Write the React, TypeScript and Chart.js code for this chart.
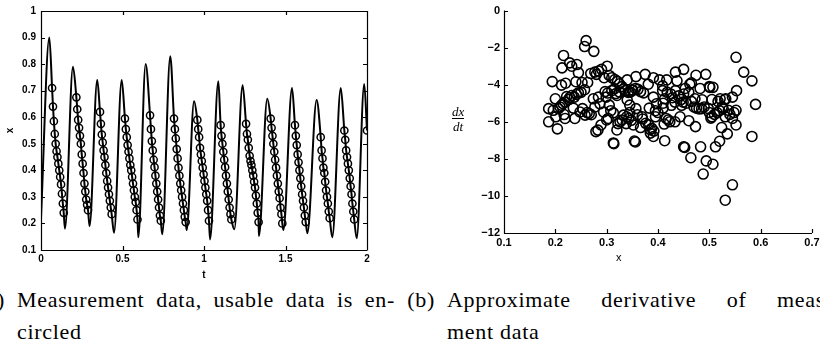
import React, { useEffect, useRef } from 'react';
import { Chart, registerables } from 'chart.js';

Chart.register(...registerables);

// ---------- Panel (a): measurement data ----------
const X1_TICKS = [0, 0.5, 1, 1.5, 2];
const X1_TICK_LABELS = ['0', '0.5', '1', '1.5', '2'];
const Y1_TICKS = [0.1, 0.2, 0.3, 0.4, 0.5, 0.6, 0.7, 0.8, 0.9, 1];
const Y1_TICK_LABELS = ['0.1', '0.2', '0.3', '0.4', '0.5', '0.6', '0.7', '0.8', '0.9', '1'];

const LINE_START_T = [0];
const LINE_START_X = [0.22];
const PEAK_T = [0.051, 0.196, 0.345, 0.495, 0.642, 0.793, 0.939, 1.088, 1.237, 1.388, 1.54, 1.691, 1.839, 1.983];
const PEAK_X = [0.9, 0.79, 0.74, 0.74, 0.8, 0.83, 0.66, 0.735, 0.72, 0.67, 0.71, 0.665, 0.71, 0.725];
const MIN_T = [0.147, 0.298, 0.448, 0.597, 0.744, 0.894, 1.037, 1.186, 1.337, 1.487, 1.634, 1.787, 1.937];
const MIN_X = [0.18, 0.19, 0.165, 0.148, 0.159, 0.175, 0.14, 0.178, 0.153, 0.175, 0.163, 0.148, 0.144];

// sampling step of the encircled (usable) measurements
const DT = 0.0055;
const CIRCLE_T0 = [0.068, 0.217, 0.362, 0.515, 0.669, 0.816, 0.959, 1.102, 1.258, 1.409, 1.558, 1.716, 1.861, 2.0];
const CIRCLE_X = [
  [0.71, 0.64, 0.585, 0.537, 0.5, 0.472, 0.45, 0.425, 0.4, 0.375, 0.347, 0.312, 0.275, 0.24],
  [0.675, 0.63, 0.59, 0.56, 0.53, 0.5, 0.46, 0.425, 0.39, 0.35, 0.32, 0.29, 0.27, 0.25],
  [0.62, 0.575, 0.535, 0.505, 0.475, 0.45, 0.42, 0.39, 0.36, 0.335, 0.31, 0.285, 0.26, 0.235],
  [0.595, 0.555, 0.525, 0.495, 0.47, 0.445, 0.42, 0.4, 0.375, 0.35, 0.325, 0.3, 0.28, 0.25, 0.215],
  [0.607, 0.555, 0.51, 0.475, 0.44, 0.412, 0.38, 0.35, 0.32, 0.29, 0.26, 0.23, 0.21],
  [0.595, 0.555, 0.52, 0.48, 0.445, 0.41, 0.38, 0.35, 0.325, 0.3, 0.275, 0.25, 0.225, 0.205],
  [0.59, 0.555, 0.525, 0.485, 0.46, 0.435, 0.41, 0.385, 0.36, 0.335, 0.31, 0.285, 0.25, 0.21],
  [0.57, 0.53, 0.5, 0.47, 0.44, 0.412, 0.38, 0.35, 0.32, 0.29, 0.26, 0.235, 0.215],
  [0.575, 0.537, 0.515, 0.485, 0.455, 0.435, 0.42, 0.4, 0.38, 0.357, 0.335, 0.305, 0.275, 0.24, 0.205],
  [0.595, 0.56, 0.53, 0.5, 0.47, 0.44, 0.41, 0.38, 0.35, 0.32, 0.295, 0.26, 0.235, 0.2],
  [0.57, 0.53, 0.495, 0.46, 0.43, 0.4, 0.37, 0.34, 0.31, 0.285, 0.26, 0.23, 0.205],
  [0.525, 0.475, 0.445, 0.41, 0.39, 0.357, 0.325, 0.3, 0.275, 0.245, 0.22],
  [0.55, 0.515, 0.475, 0.45, 0.425, 0.4, 0.37, 0.34, 0.31, 0.275, 0.245, 0.215],
  [0.55],
];

// ---------- Panel (b): approximate derivative ----------
const X2_TICKS = [0.1, 0.2, 0.3, 0.4, 0.5, 0.6, 0.7];
const X2_TICK_LABELS = ['0.1', '0.2', '0.3', '0.4', '0.5', '0.6', '0.7'];
const Y2_TICKS = [-12, -10, -8, -6, -4, -2, 0];
const Y2_TICK_LABELS = ['\u221212', '\u221210', '\u22128', '\u22126', '\u22124', '\u22122', '0'];

const DERIV_X = [
  0.26, 0.257, 0.275, 0.216, 0.213, 0.228, 0.242, 0.232, 0.245, 0.194,
  0.212, 0.22, 0.24, 0.252, 0.263, 0.257, 0.2, 0.222, 0.237, 0.245,
  0.25, 0.187, 0.196, 0.206, 0.212, 0.219, 0.187, 0.204, 0.201, 0.219,
  0.217, 0.235, 0.238, 0.248, 0.253, 0.258, 0.266, 0.269, 0.277, 0.284,
  0.29, 0.301, 0.295, 0.28, 0.274, 0.284, 0.297, 0.299, 0.277, 0.287,
  0.294, 0.303, 0.289, 0.279, 0.313, 0.314, 0.32, 0.313, 0.34, 0.333,
  0.342, 0.326, 0.339, 0.228, 0.232, 0.241, 0.226, 0.215, 0.209, 0.262,
  0.27, 0.302, 0.305, 0.308, 0.305, 0.31, 0.316, 0.321, 0.325, 0.33,
  0.336, 0.346, 0.351, 0.356, 0.361, 0.552, 0.567, 0.583, 0.59, 0.583,
  0.553, 0.552, 0.545, 0.53, 0.517, 0.535, 0.524, 0.52, 0.512, 0.507,
  0.494, 0.488, 0.483, 0.464, 0.45, 0.452, 0.413, 0.356, 0.354, 0.545,
  0.531, 0.45, 0.434, 0.474, 0.493, 0.375, 0.357, 0.391, 0.403, 0.417,
  0.381, 0.409, 0.437, 0.453, 0.462, 0.482, 0.501, 0.507, 0.349, 0.366,
  0.372, 0.409, 0.418, 0.434, 0.45, 0.46, 0.391, 0.413, 0.433, 0.449,
  0.472, 0.486, 0.505, 0.521, 0.532, 0.357, 0.383, 0.397, 0.41, 0.426,
  0.446, 0.475, 0.485, 0.498, 0.527, 0.537, 0.552, 0.505, 0.531, 0.545,
  0.333, 0.343, 0.369, 0.395, 0.416, 0.423, 0.433, 0.443, 0.46, 0.473,
  0.412, 0.352, 0.366, 0.382, 0.388, 0.385, 0.391, 0.425, 0.428, 0.44,
  0.445, 0.455, 0.465, 0.47, 0.48, 0.49, 0.5, 0.503, 0.51, 0.515,
  0.52, 0.525, 0.54, 0.548, 0.42, 0.395, 0.4, 0.385, 0.392, 0.37,
  0.376, 0.36, 0.345, 0.348, 0.338, 0.33, 0.34, 0.345, 0.32, 0.325,
  0.315, 0.318, 0.31, 0.5, 0.465, 0.41, 0.283, 0.3, 0.322,
];
const DERIV_Y = [
  -1.62, -1.94, -2.2, -2.42, -3.09, -2.82, -2.91, -3.0, -3.35, -3.83,
  -4.02, -3.92, -3.84, -3.88, -3.88, -4.27, -4.76, -4.64, -4.67, -4.44,
  -4.41, -5.29, -5.38, -5.29, -5.11, -4.94, -6.0, -6.38, -5.73, -5.82,
  -5.61, -5.26, -5.82, -5.47, -5.29, -5.64, -5.56, -3.39, -3.32, -3.26,
  -3.17, -3.0, -3.62, -3.44, -4.76, -4.67, -4.37, -4.67, -5.2, -5.03,
  -5.47, -5.82, -6.17, -6.53, -7.14, -7.18, -6.44, -5.52, -3.74, -4.23,
  -4.41, -6.0, -5.73, -4.7, -4.58, -4.52, -4.8, -5.02, -5.2, -5.5,
  -5.62, -4.45, -5.1, -5.4, -3.5, -3.62, -3.72, -3.82, -3.95, -4.1,
  -4.32, -4.4, -4.3, -4.2, -4.25, -2.52, -3.32, -3.79, -5.06, -6.79,
  -4.32, -6.17, -4.67, -4.8, -4.9, -6.65, -6.31, -7.05, -7.35, -8.29,
  -8.11, -8.82, -7.35, -7.94, -7.35, -7.38, -7.02, -7.09, -7.04, -9.4,
  -10.23, -3.17, -3.32, -3.49, -3.44, -3.44, -3.56, -3.62, -3.74, -3.74,
  -3.97, -4.06, -3.79, -4.2, -3.97, -4.2, -4.14, -4.14, -4.27, -4.37,
  -4.44, -4.32, -4.41, -4.32, -4.5, -4.41, -4.67, -4.76, -4.94, -4.94,
  -4.76, -4.81, -4.8, -4.76, -4.76, -5.29, -5.26, -5.03, -5.26, -5.11,
  -5.11, -5.26, -5.29, -5.29, -5.29, -5.38, -5.38, -5.73, -5.73, -5.82,
  -5.64, -5.82, -5.73, -5.73, -5.82, -6.0, -6.0, -5.73, -5.94, -6.26,
  -6.12, -6.17, -6.31, -6.17, -6.35, -6.61, -6.79, -4.5, -4.7, -4.6,
  -4.8, -5.0, -4.9, -5.2, -5.3, -5.2, -5.5, -5.8, -5.6, -5.5,
  -5.4, -5.2, -5.6, -5.5, -5.9, -5.4, -5.5, -6.42, -6.5, -5.85,
  -6.08, -5.62, -5.5, -5.92, -6.1, -5.9, -4.82, -5.1, -4.58, -4.4,
  -4.22, -4.48, -4.32, -4.1, -3.9, -5.0, -6.45, -5.9, -6.1,
];

const SANS = "'Liberation Sans', Arial, sans-serif";
const SERIF = "'Liberation Serif', 'Times New Roman', serif";

// Draws MATLAB-like inward ticks and the axes box
const axesPlugin = {
  id: 'matAxes',
  afterDraw(chart: any, _args: any, opts: any) {
    const { ctx, chartArea } = chart;
    const { left, right, top, bottom } = chartArea;
    const xs = chart.scales.x;
    const ys = chart.scales.y;
    const len = opts.tickLen || 4;
    ctx.save();
    ctx.strokeStyle = '#000';
    ctx.lineWidth = 1.2;
    ctx.beginPath();
    ctx.moveTo(Math.round(left) + 0.5, top);
    ctx.lineTo(Math.round(left) + 0.5, bottom + 0.5);
    ctx.lineTo(right, Math.round(bottom) + 0.5);
    if (opts.box) {
      ctx.moveTo(Math.round(left) + 0.5, Math.round(top) + 0.5);
      ctx.lineTo(Math.round(right) + 0.5, Math.round(top) + 0.5);
      ctx.lineTo(Math.round(right) + 0.5, bottom + 0.5);
    }
    xs.ticks.forEach((t: any) => {
      const px = Math.round(xs.getPixelForValue(t.value)) + 0.5;
      ctx.moveTo(px, bottom);
      ctx.lineTo(px, bottom - len);
      if (opts.box) {
        ctx.moveTo(px, top);
        ctx.lineTo(px, top + len);
      }
    });
    ys.ticks.forEach((t: any) => {
      const py = Math.round(ys.getPixelForValue(t.value)) + 0.5;
      ctx.moveTo(left, py);
      ctx.lineTo(left + len, py);
      if (opts.box) {
        ctx.moveTo(right, py);
        ctx.lineTo(right - len, py);
      }
    });
    ctx.stroke();
    ctx.restore();
  },
};

function buildLine() {
  const pts: { x: number; y: number }[] = [];
  LINE_START_T.forEach((t, i) => pts.push({ x: t, y: LINE_START_X[i] }));
  PEAK_T.forEach((t, i) => pts.push({ x: t, y: PEAK_X[i] }));
  MIN_T.forEach((t, i) => pts.push({ x: t, y: MIN_X[i] }));
  CIRCLE_X.forEach((arr, i) => arr.forEach((v, j) => pts.push({ x: CIRCLE_T0[i] + j * DT, y: v })));
  pts.sort((a, b) => a.x - b.x);
  return pts;
}

function buildCircles() {
  const pts: { x: number; y: number }[] = [];
  CIRCLE_X.forEach((arr, i) => arr.forEach((v, j) => pts.push({ x: CIRCLE_T0[i] + j * DT, y: v })));
  return pts;
}

export default function App() {
  const ref1 = useRef<HTMLCanvasElement>(null);
  const ref2 = useRef<HTMLCanvasElement>(null);

  useEffect(() => {
    const c1 = new Chart(ref1.current as HTMLCanvasElement, {
      type: 'scatter',
      data: {
        datasets: [
          {
            type: 'line',
            data: buildLine(),
            borderColor: '#000',
            borderWidth: 2,
            pointRadius: 0,
            cubicInterpolationMode: 'monotone',
            fill: false,
            order: 2,
          } as any,
          {
            data: buildCircles(),
            showLine: false,
            pointRadius: 3.6,
            pointBorderWidth: 1.5,
            pointBorderColor: '#000',
            pointBackgroundColor: 'rgba(0,0,0,0)',
            order: 1,
          },
        ],
      },
      plugins: [axesPlugin],
      options: {
        animation: false,
        responsive: false,
        devicePixelRatio: 1,
        layout: { padding: { left: 0, right: 33, top: 10, bottom: 0 } },
        plugins: {
          legend: { display: false },
          tooltip: { enabled: false },
          matAxes: { box: true, tickLen: 4 },
        } as any,
        scales: {
          x: {
            type: 'linear',
            min: 0,
            max: 2,
            afterBuildTicks: (s: any) => { s.ticks = X1_TICKS.map((v) => ({ value: v })); },
            afterFit: (s: any) => { s.height = 34; },
            grid: { display: false, drawTicks: false },
            border: { display: false },
            ticks: {
              padding: 3,
              color: '#000',
              font: { family: SANS, size: 10, weight: 'bold' },
              callback: (_v: any, i: number) => X1_TICK_LABELS[i],
              maxRotation: 0,
            },
            title: {
              display: true,
              text: 't',
              color: '#000',
              font: { family: SANS, size: 10, weight: 'bold' },
              padding: { top: 0, bottom: 3 },
            },
          },
          y: {
            type: 'linear',
            min: 0.1,
            max: 1,
            afterBuildTicks: (s: any) => { s.ticks = Y1_TICKS.map((v) => ({ value: v })); },
            afterFit: (s: any) => { s.width = 41; },
            grid: { display: false, drawTicks: false },
            border: { display: false },
            ticks: {
              padding: 5,
              color: '#000',
              font: { family: SANS, size: 10, weight: 'bold' },
              callback: (_v: any, i: number) => Y1_TICK_LABELS[i],
            },
            title: {
              display: true,
              text: 'x',
              color: '#000',
              font: { family: SANS, size: 10, weight: 'bold' },
              padding: { top: 4, bottom: 0 },
            },
          },
        },
      } as any,
    });

    const c2 = new Chart(ref2.current as HTMLCanvasElement, {
      type: 'scatter',
      data: {
        datasets: [
          {
            data: DERIV_X.map((x, i) => ({ x, y: DERIV_Y[i] })),
            showLine: false,
            pointRadius: 5,
            pointBorderWidth: 1.6,
            pointBorderColor: '#000',
            pointBackgroundColor: 'rgba(0,0,0,0)',
          },
        ],
      },
      plugins: [axesPlugin],
      options: {
        animation: false,
        responsive: false,
        devicePixelRatio: 1,
        layout: { padding: { left: 0, right: 13, top: 7, bottom: 0 } },
        plugins: {
          legend: { display: false },
          tooltip: { enabled: false },
          matAxes: { box: false, tickLen: 4 },
        } as any,
        scales: {
          x: {
            type: 'linear',
            min: 0.1,
            max: 0.7,
            afterBuildTicks: (s: any) => { s.ticks = X2_TICKS.map((v) => ({ value: v })); },
            afterFit: (s: any) => { s.height = 35; },
            grid: { display: false, drawTicks: false },
            border: { display: false },
            ticks: {
              padding: 3,
              color: '#000',
              font: { family: SANS, size: 11, weight: 'bold' },
              callback: (_v: any, i: number) => X2_TICK_LABELS[i],
              maxRotation: 0,
            },
          },
          y: {
            type: 'linear',
            min: -12,
            max: 0,
            afterBuildTicks: (s: any) => { s.ticks = Y2_TICKS.map((v) => ({ value: v })); },
            afterFit: (s: any) => { s.width = 64; },
            grid: { display: false, drawTicks: false },
            border: { display: false },
            ticks: {
              padding: 4,
              color: '#000',
              font: { family: SANS, size: 11, weight: 'bold' },
              callback: (_v: any, i: number) => Y2_TICK_LABELS[i],
            },
          },
        },
      } as any,
    });

    return () => {
      c1.destroy();
      c2.destroy();
    };
  }, []);

  const capStyle: React.CSSProperties = {
    position: 'absolute',
    width: 378,
    fontFamily: SERIF,
    fontSize: 22,
    letterSpacing: '0.7px',
    lineHeight: '32px',
    color: '#000',
    whiteSpace: 'nowrap',
  };
  const labelStyle: React.CSSProperties = {
    position: 'absolute',
    right: 'calc(100% + 12px)',
    top: 0,
  };
  const justify: React.CSSProperties = {
    textAlign: 'justify',
    textAlignLast: 'justify',
    whiteSpace: 'normal',
  };

  return (
    <div
      style={{
        position: 'fixed',
        left: 0,
        top: 0,
        width: 820,
        height: 354,
        overflow: 'hidden',
        background: '#fff',
      }}
    >
      <canvas
        ref={ref1}
        width={400}
        height={284}
        style={{ position: 'absolute', left: 0, top: 0, width: 400, height: 284 }}
      />
      <canvas
        ref={ref2}
        width={385}
        height={268}
        style={{ position: 'absolute', left: 440, top: 0, width: 385, height: 268 }}
      />
      {/* axis labels of panel (b) */}
      <div
        style={{
          position: 'absolute',
          left: 616,
          top: 250,
          fontFamily: SANS,
          fontSize: 11,
          color: '#000',
          lineHeight: '14px',
        }}
      >
        x
      </div>
      <div
        style={{
          position: 'absolute',
          left: 451,
          top: 105,
          display: 'flex',
          flexDirection: 'column',
          alignItems: 'center',
          fontFamily: SERIF,
          fontStyle: 'italic',
          fontSize: 13,
          lineHeight: '13px',
          color: '#000',
        }}
      >
        <span style={{ padding: '0 1px' }}>dx</span>
        <span style={{ borderTop: '1px solid #000', padding: '1px 1px 0' }}>dt</span>
      </div>
      {/* captions */}
      <div style={{ ...capStyle, left: 17, top: 284 }}>
        <span style={labelStyle}>(a)</span>
        <div style={justify}>Measurement data, usable data is en-</div>
        <div>circled</div>
      </div>
      <div style={{ ...capStyle, left: 447, top: 284, width: 386 }}>
        <span style={labelStyle}>(b)</span>
        <div style={justify}>Approximate derivative of meas-</div>
        <div>ment data</div>
      </div>
    </div>
  );
}
